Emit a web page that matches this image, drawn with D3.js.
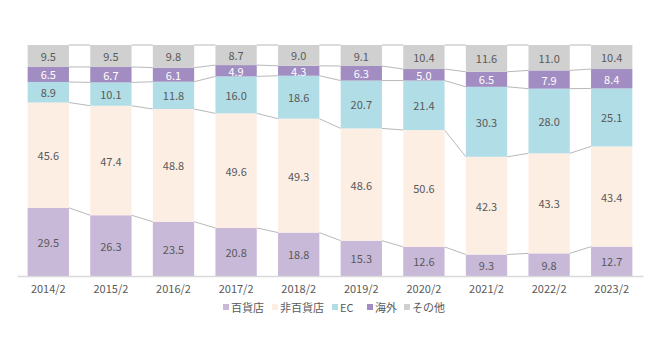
<!DOCTYPE html>
<html><head><meta charset="utf-8">
<script src="https://cdn.jsdelivr.net/npm/d3@7"></script>
<style>
body{margin:0;background:#fff;}
text{font-family:"Noto Sans CJK JP","Noto Sans",sans-serif;}
</style></head>
<body><svg id="c" width="660" height="360"></svg>
<script>
const categories = ["2014/2","2015/2","2016/2","2017/2","2018/2","2019/2","2020/2","2021/2","2022/2","2023/2"];
const seriesNames = ["百貨店","非百貨店","EC","海外","その他"];
const depart   = [29.5,26.3,23.5,20.8,18.8,15.3,12.6,9.3,9.8,12.7];
const nonDepart= [45.6,47.4,48.8,49.6,49.3,48.6,50.6,42.3,43.3,43.4];
const ec       = [8.9,10.1,11.8,16.0,18.6,20.7,21.4,30.3,28.0,25.1];
const overseas = [6.5,6.7,6.1,4.9,4.3,6.3,5.0,6.5,7.9,8.4];
const other    = [9.5,9.5,9.8,8.7,9.0,9.1,10.4,11.6,11.0,10.4];
const colors = ["#c8b9d9","#fdeee4","#b1dde6","#a18dc1","#d0d0d0"];
const textColors = ["#595959","#595959","#595959","#ffffff","#595959"];

const seriesVals = [depart,nonDepart,ec,overseas,other];
const rows = categories.map((c,i)=>{const o={cat:c}; seriesNames.forEach((s,k)=>o[s]=seriesVals[k][i]); return o;});
const stacked = d3.stack().keys(seriesNames)(rows);

const svg = d3.select("#c");
const x = d3.scaleBand().domain(categories).range([17,643]).paddingInner(0.34).paddingOuter(0.17);
const y = d3.scaleLinear().domain([0,100]).range([276,45]);

// connector lines
const bw = x.bandwidth();
const conn = svg.append("g");
stacked.forEach(layer=>{
  for(let i=0;i<categories.length-1;i++){
    conn.append("line")
      .attr("x1",x(categories[i])+bw).attr("y1",y(layer[i][1]))
      .attr("x2",x(categories[i+1])).attr("y2",y(layer[i+1][1]))
      .attr("stroke","#a6a6a6").attr("stroke-width",0.8);
  }
});

stacked.forEach((layer,k)=>{
  const g = svg.append("g");
  g.selectAll("rect").data(layer).enter().append("rect")
    .attr("x",d=>x(d.data.cat)).attr("width",bw)
    .attr("y",d=>y(d[1])).attr("height",d=>y(d[0])-y(d[1]))
    .attr("fill",colors[k]);
  g.selectAll("text").data(layer).enter().append("text")
    .attr("x",d=>x(d.data.cat)+bw/2).attr("y",d=>(y(d[0])+y(d[1]))/2)
    .attr("text-anchor","middle").attr("dominant-baseline","central")
    .attr("font-size",11).attr("fill",textColors[k])
    .text(d=>(d[1]-d[0]).toFixed(1));
});

// axis
const ax = svg.append("g").attr("transform","translate(0,276)")
  .call(d3.axisBottom(x).tickSize(0).tickPadding(9));
ax.select(".domain").attr("stroke","#d9d9d9").attr("stroke-width",1.5);
ax.selectAll("text").attr("font-size",11).attr("fill","#595959")
  .attr("font-family","'Noto Sans CJK JP','Noto Sans',sans-serif");

// legend
const legX = [226,275,335,370,407];
const lg = svg.append("g");
seriesNames.forEach((s,k)=>{
  lg.append("rect").attr("x",legX[k]-3).attr("y",304).attr("width",6).attr("height",6).attr("fill",colors[k]);
  lg.append("text").attr("x",legX[k]+5).attr("y",307).attr("dominant-baseline","central")
    .attr("font-size",11).attr("fill","#595959").text(s);
});
</script></body></html>
